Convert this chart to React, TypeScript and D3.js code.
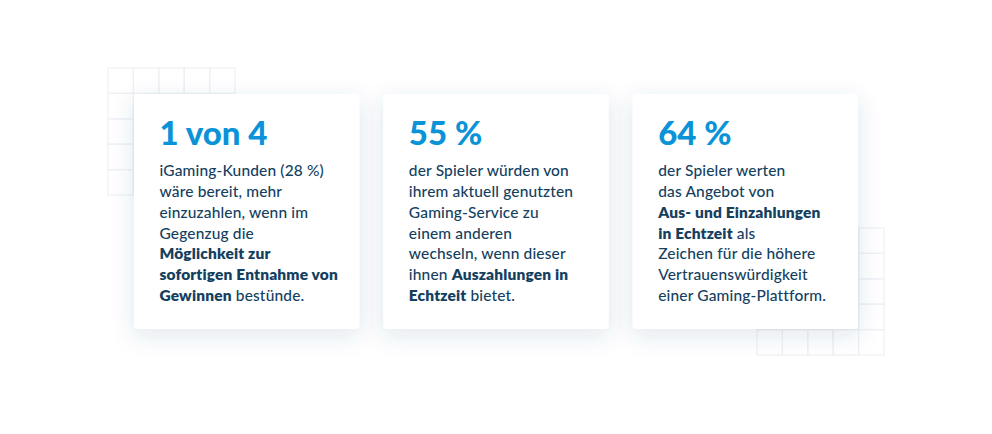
import React from "react";
import * as d3 from "d3";

const W = 992, H = 434;
const headlines = ["1 von 4", "55 %", "64 %"];
type Seg = [string, boolean];
const bodyA: Seg[][] = [
  [["iGaming-Kunden (28 %)", false]],
  [["wäre bereit, mehr", false]],
  [["einzuzahlen, wenn im", false]],
  [["Gegenzug die", false]],
  [["Möglichkeit zur", true]],
  [["sofortigen Entnahme von", true]],
  [["Gewinnen", true], [" bestünde.", false]],
];
const bodyB: Seg[][] = [
  [["der Spieler würden von", false]],
  [["ihrem aktuell genutzten", false]],
  [["Gaming-Service zu", false]],
  [["einem anderen", false]],
  [["wechseln, wenn dieser", false]],
  [["ihnen ", false], ["Auszahlungen in", true]],
  [["Echtzeit", true], [" bietet.", false]],
];
const bodyC: Seg[][] = [
  [["der Spieler werten", false]],
  [["das Angebot von", false]],
  [["Aus- und Einzahlungen", true]],
  [["in Echtzeit", true], [" als", false]],
  [["Zeichen für die höhere", false]],
  [["Vertrauenswürdigkeit", false]],
  [["einer Gaming-Plattform.", false]],
];
const bodies = [bodyA, bodyB, bodyC];
const gridCells = d3.range(5);

const x = d3.scaleBand<number>().domain([0, 1, 2]).range([134, 858]).paddingInner(0.0965).paddingOuter(0);
const lineY = d3.scaleLinear().domain([0, 6]).range([176, 301]);
const FONT = "Lato, 'Noto Sans', sans-serif";
const NAVY = "#143f5f";
const BLUE = "#0a93d6";

function Grid({ left, top }: { left: number; top: number }) {
  const g = d3.scaleLinear().domain([0, 5]).range([0, 127]);
  return (
    <g transform={`translate(${left},${top})`} fill="none" stroke="#eef1f4" strokeWidth={1.2}>
      {gridCells.map((r) =>
        gridCells.map((c) => (
          <rect key={`${r}-${c}`} x={g(c)} y={g(r)} width={g(1)} height={g(1)} />
        ))
      )}
    </g>
  );
}

export default function App() {
  return (
    <svg width={W} height={H} viewBox={`0 0 ${W} ${H}`} style={{ position: "absolute", left: 0, top: 0, background: "#fff" }}>
      <defs>
        <filter id="sh" x="-30%" y="-30%" width="160%" height="160%">
          <feDropShadow dx="0" dy="6" stdDeviation="11" floodColor="#24507a" floodOpacity="0.14" />
        </filter>
      </defs>
      <Grid left={108} top={68} />
      <Grid left={757} top={228} />
      {headlines.map((h, i) => {
        const left = x(i)!;
        return (
          <g key={h}>
            <rect x={left} y={94} width={x.bandwidth()} height={235} rx={4} fill="#fff" filter="url(#sh)" />
            <text x={left + 25.5} y={144.5} fontFamily={FONT} fontWeight={900} fontSize={33} fill={BLUE}>{h}</text>
            {bodies[i].map((line, j) => (
              <text key={j} x={left + 25.5} y={lineY(j)} fontFamily={FONT} fontSize={15.5} letterSpacing={0.15} fill={NAVY} xmlSpace="preserve">
                {line.map((s, k) => (
                  <tspan key={k} fontWeight={s[1] ? 800 : 500}>{s[0]}</tspan>
                ))}
              </text>
            ))}
          </g>
        );
      })}
    </svg>
  );
}
